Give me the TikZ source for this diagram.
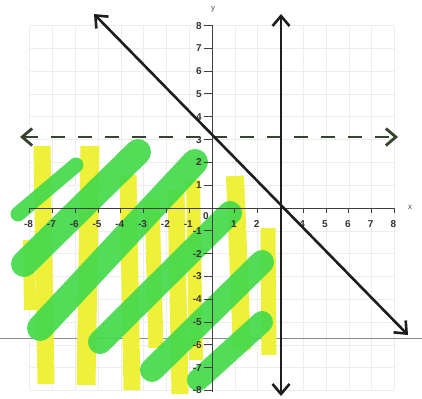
\documentclass[tikz,border=0pt]{standalone}
\usepackage{fontspec}
\setmainfont{Liberation Sans}
\usetikzlibrary{arrows.meta}
\definecolor{hlyellow}{HTML}{EEF03A}
\definecolor{hlgreen}{HTML}{46DA4C}
\definecolor{olivedark}{HTML}{36442F}
\definecolor{ink}{HTML}{1E1E1E}
\begin{document}
\begin{tikzpicture}[x=1pt,y=-1pt,
  ylw/.style={draw=hlyellow,line width=17pt,line cap=butt},
  grn/.style={draw=hlgreen,line width=24pt,line cap=round,opacity=0.93},
  gridline/.style={draw=black!7,line width=0.6pt},
  axisline/.style={draw=black!75,line width=1pt},
  ticklbl/.style={font=\bfseries\fontsize{10}{12}\selectfont,text=ink!90,inner sep=0pt},
  bigline/.style={draw=ink,line width=2.6pt,{Straight Barb[length=10pt,width=17pt]}-{Straight Barb[length=10pt,width=17pt]}},
  dashline/.style={draw=olivedark,line width=2.8pt,dash pattern=on 14pt off 13pt,{Straight Barb[length=10pt,width=17pt]}-{Straight Barb[length=10pt,width=17pt]}}
]
\fill[white] (0,0) rectangle (422,398);
\useasboundingbox (0,0) rectangle (422,398);

% faint grid
\foreach \k in {-8,...,8}{
  \draw[gridline] ({212+22.8*\k},26) -- ({212+22.8*\k},390);
  \draw[gridline] (30,{208-22.8*\k}) -- (394,{208-22.8*\k});
}

% scan line
\coordinate (sl) at (0,338);
\coordinate (sr) at (422,338);
\draw[black!45,line width=0.8pt] (sl) -- (sr);

% yellow highlighter strokes
\draw[ylw] (42,146) -- (46,384);
\draw[ylw,line width=12pt] (29,240) -- (30,310);
\draw[ylw,line width=19pt] (90,146) -- (86,385);
\draw[ylw] (128,175) -- (132,390);
\draw[ylw,line width=15pt] (152,200) -- (156,348);
\draw[ylw] (176,190) -- (180,394);
\draw[ylw,line width=14pt] (193,180) -- (196,360);
\draw[ylw,line width=18pt] (235,176) -- (242,350);
\draw[ylw,line width=15pt] (268,228) -- (269,355);

% green highlighter strokes
\draw[grn,line width=15pt] (18,214) -- (76,165);
\draw[grn,line width=26pt] (24,264) -- (138,152);
\draw[grn,line width=26pt] (40,328) -- (195,162);
\draw[grn] (100,342) -- (230,213);
\draw[grn] (152,370) -- (262,262);
\draw[grn,line width=22pt] (198,380) -- (262,322);

% axes
\coordinate (xl) at (29,208);
\coordinate (xr) at (395,208);
\coordinate (yt) at (212,25);
\coordinate (yb) at (212,392);
\draw[axisline] (xl) -- (xr);
\draw[axisline] (yt) -- (yb);
\foreach \k in {-8,...,8}{
  \draw[axisline] ({212+22.8*\k},208) -- ++(0,5);
  \draw[axisline] (212,{208-22.8*\k}) -- ++(-8,0);
}
\foreach \k in {-8,...,-1,1,2,4,5,6,7,8}{
  \node[ticklbl] (xlab\k) at ({212+22.8*\k-1},224) {\k};
}
\foreach \k in {-8,...,-1,1,2,...,8}{
  \node[ticklbl,anchor=east] (ylab\k) at (202,{208-22.8*\k}) {\k};
}
\node[ticklbl] (zero) at (206,216) {0};
\node[font=\fontsize{8}{9}\selectfont,text=ink!80,inner sep=0pt] (xname) at (410,207) {x};
\node[font=\fontsize{8}{9}\selectfont,text=ink!80,inner sep=0pt] (yname) at (213,9) {y};

% boundary lines
\coordinate (dl) at (20,137);
\coordinate (dr) at (398,137);
\draw[dashline] (dl) -- (dr);
\coordinate (vt) at (281,14);
\coordinate (vb) at (281,396);
\draw[bigline] (vt) -- (vb);
\coordinate (dt) at (94,14);
\coordinate (db) at (408,335);
\draw[bigline] (dt) -- (db);
\end{tikzpicture}
\end{document}
